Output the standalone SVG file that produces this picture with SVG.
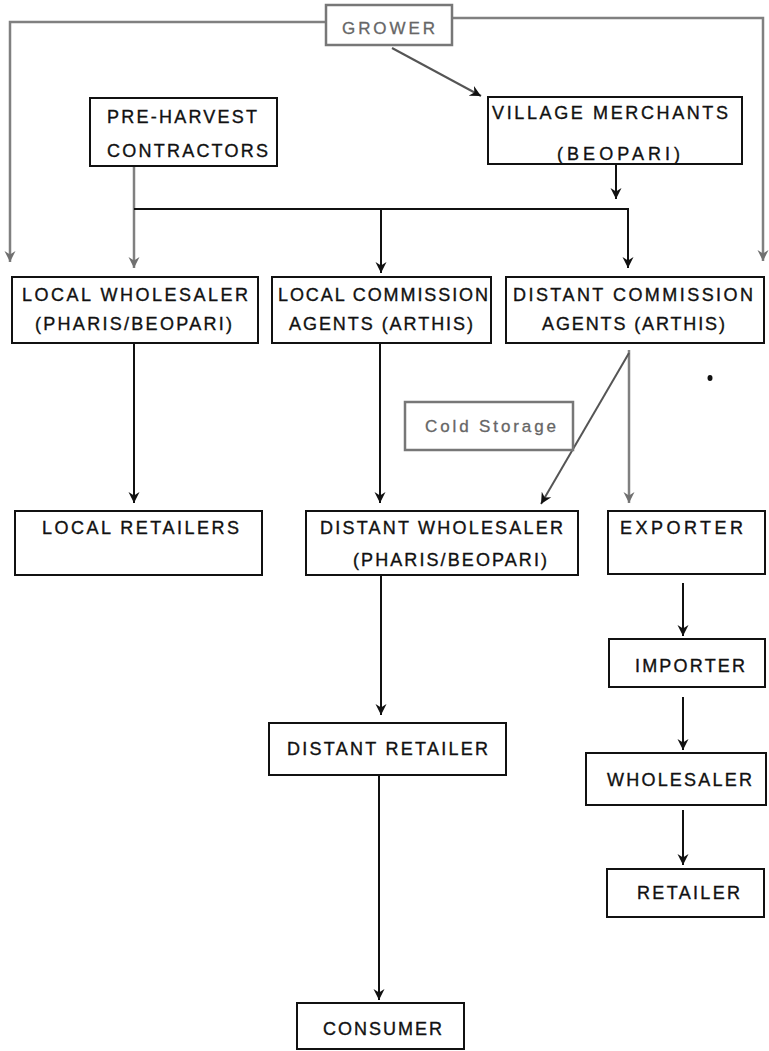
<svg xmlns="http://www.w3.org/2000/svg" width="769" height="1051" viewBox="0 0 769 1051">
<style>
  .box{fill:#fff;stroke:#111;stroke-width:2}
  .gbox{fill:#fff;stroke:#777;stroke-width:2.5}
  .t{font-family:"Liberation Sans",Arial,sans-serif;font-size:18px;fill:#111;stroke:#111;stroke-width:0.35}
  .gt{font-family:"Liberation Sans",Arial,sans-serif;font-size:17px;fill:#666;stroke:#666;stroke-width:0.3}
  .ln{fill:none;stroke:#111;stroke-width:2}
  .gl{fill:none;stroke:#808080;stroke-width:2.5}
  .dl{fill:none;stroke:#555;stroke-width:2}
</style>
<defs>
  <marker id="ah" markerUnits="userSpaceOnUse" markerWidth="12" markerHeight="12" refX="11" refY="6" orient="auto">
    <path d="M0,0.5 L11,6 L0,11.5 L3.5,6 z" fill="#111"/>
  </marker>
  <marker id="gah" markerUnits="userSpaceOnUse" markerWidth="12" markerHeight="12" refX="11" refY="6" orient="auto">
    <path d="M0,0.5 L11,6 L0,11.5 L3.5,6 z" fill="#707070"/>
  </marker>
</defs>
<rect width="769" height="1051" fill="#fff"/>

<g id="connectors">
  <path class="gl" d="M326,22 H10 V262" marker-end="url(#gah)"/>
  <path class="gl" d="M452,18 H763 V261" marker-end="url(#gah)"/>
  <path class="dl" d="M392,48 L481,96" marker-end="url(#ah)"/>
  <path class="gl" d="M134,166 V268" marker-end="url(#gah)"/>
  <path class="ln" d="M616,164 V199" marker-end="url(#ah)"/>
  <path class="ln" d="M134,209 H628 V268"/>
  <path class="ln" d="M628,250 V268" marker-end="url(#ah)"/>
  <path class="ln" d="M381,209 V273" marker-end="url(#ah)"/>
  <path class="ln" d="M134,343 V503" marker-end="url(#ah)"/>
  <path class="ln" d="M380,343 V503" marker-end="url(#ah)"/>
  <path class="gl" d="M629,350 V503" marker-end="url(#gah)"/>
  <path class="dl" d="M629,353 L541,504" marker-end="url(#ah)"/>
  <path class="ln" d="M683,583 V636" marker-end="url(#ah)"/>
  <path class="ln" d="M683,697 V750" marker-end="url(#ah)"/>
  <path class="ln" d="M683,810 V865" marker-end="url(#ah)"/>
  <path class="ln" d="M381,575 V715" marker-end="url(#ah)"/>
  <path class="ln" d="M379,775 V1000" marker-end="url(#ah)"/>
</g>

<g id="grower">
  <rect class="gbox" x="326" y="5" width="126" height="40"/>
  <text class="gt" x="342" y="34" textLength="93" lengthAdjust="spacing">GROWER</text>
</g>
<g id="pre-harvest">
  <rect class="box" x="90" y="98" width="187" height="68"/>
  <text class="t" x="107" y="123" textLength="150" lengthAdjust="spacing">PRE-HARVEST</text>
  <text class="t" x="107" y="157" textLength="161" lengthAdjust="spacing">CONTRACTORS</text>
</g>
<g id="village-merchants">
  <rect class="box" x="488" y="97" width="254" height="67"/>
  <text class="t" x="492" y="119" textLength="236" lengthAdjust="spacing">VILLAGE MERCHANTS</text>
  <text class="t" x="557" y="160" textLength="123" lengthAdjust="spacing">(BEOPARI)</text>
</g>
<g id="local-wholesaler">
  <rect class="box" x="12" y="277" width="246" height="66"/>
  <text class="t" x="22" y="301" textLength="226" lengthAdjust="spacing">LOCAL WHOLESALER</text>
  <text class="t" x="35" y="330" textLength="197" lengthAdjust="spacing">(PHARIS/BEOPARI)</text>
</g>
<g id="local-commission">
  <rect class="box" x="272" y="277" width="219" height="66"/>
  <text class="t" x="278" y="301" textLength="210" lengthAdjust="spacing">LOCAL COMMISSION</text>
  <text class="t" x="289" y="330" textLength="184" lengthAdjust="spacing">AGENTS (ARTHIS)</text>
</g>
<g id="distant-commission">
  <rect class="box" x="506" y="277" width="258" height="66"/>
  <text class="t" x="513" y="301" textLength="240" lengthAdjust="spacing">DISTANT COMMISSION</text>
  <text class="t" x="542" y="330" textLength="183" lengthAdjust="spacing">AGENTS (ARTHIS)</text>
</g>
<g id="cold-storage">
  <rect class="gbox" x="405" y="402" width="168" height="48"/>
  <text class="gt" x="425" y="432" textLength="131" lengthAdjust="spacing">Cold Storage</text>
</g>
<ellipse cx="710" cy="378" rx="2.5" ry="3" fill="#111"/>
<g id="local-retailers">
  <rect class="box" x="15" y="511" width="247" height="64"/>
  <text class="t" x="42" y="534" textLength="197" lengthAdjust="spacing">LOCAL RETAILERS</text>
</g>
<g id="distant-wholesaler">
  <rect class="box" x="306" y="511" width="272" height="64"/>
  <text class="t" x="320" y="534" textLength="243" lengthAdjust="spacing">DISTANT WHOLESALER</text>
  <text class="t" x="353" y="566" textLength="194" lengthAdjust="spacing">(PHARIS/BEOPARI)</text>
</g>
<g id="exporter">
  <rect class="box" x="608" y="511" width="157" height="63"/>
  <text class="t" x="620" y="534" textLength="123" lengthAdjust="spacing">EXPORTER</text>
</g>
<g id="importer">
  <rect class="box" x="609" y="639" width="156" height="48"/>
  <text class="t" x="635" y="672" textLength="110" lengthAdjust="spacing">IMPORTER</text>
</g>
<g id="wholesaler">
  <rect class="box" x="586" y="753" width="180" height="52"/>
  <text class="t" x="607" y="786" textLength="145" lengthAdjust="spacing">WHOLESALER</text>
</g>
<g id="retailer">
  <rect class="box" x="607" y="869" width="157" height="48"/>
  <text class="t" x="637" y="899" textLength="103" lengthAdjust="spacing">RETAILER</text>
</g>
<g id="distant-retailer">
  <rect class="box" x="269" y="723" width="237" height="52"/>
  <text class="t" x="287" y="755" textLength="201" lengthAdjust="spacing">DISTANT RETAILER</text>
</g>
<g id="consumer">
  <rect class="box" x="297" y="1003" width="167" height="46"/>
  <text class="t" x="323" y="1035" textLength="119" lengthAdjust="spacing">CONSUMER</text>
</g>
</svg>
